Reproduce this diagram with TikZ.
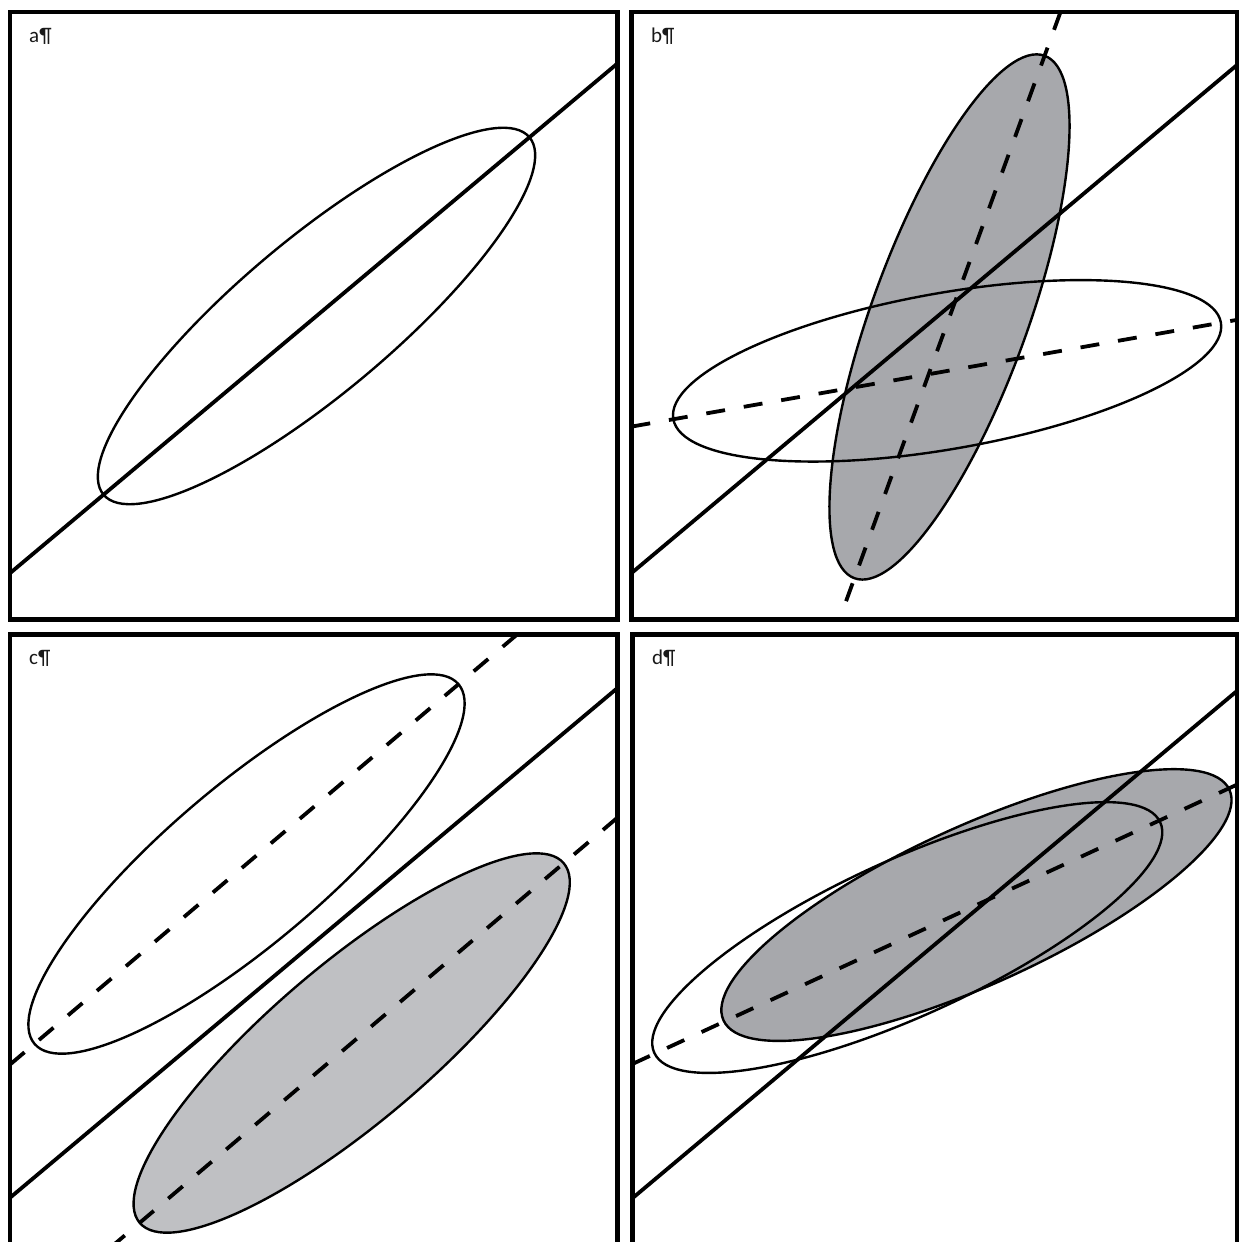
\documentclass[tikz,border=0pt]{standalone}
\usepackage{fontspec}
\setmainfont{Carlito}
\usetikzlibrary{calc}
\definecolor{shadeDark}{HTML}{A7A8AC}
\definecolor{shadeLight}{HTML}{BFC0C3}
\begin{document}
\begin{tikzpicture}[x=1pt,y=1pt,
  panelframe/.style={line width=4.5pt},
  mainline/.style={line width=3.8pt},
  axisline/.style={line width=3.8pt, dash pattern=on 19pt off 19pt},
  ring/.style={line width=2.4pt},
  lbl/.style={anchor=base west, inner sep=0pt, text=black!90, font=\fontsize{21}{24}\selectfont}]
\useasboundingbox (0,0) rectangle (1239,1242);

% ---------------- panel a ----------------
\coordinate (A) at (316.5,926);
\begin{scope}
  \clip (10,622.5) rectangle (617.5,1230);
  \draw[ring, rotate around={40:(A)}] (A) ellipse [x radius=278pt, y radius=77pt];
  \draw[mainline] ($(A)+(220:500)$) -- ($(A)+(40:500)$);
\end{scope}
\draw[panelframe] (10,622.5) rectangle (617.5,1230);
\node[lbl] (la) at (29,1199.5) {a¶};

% ---------------- panel b ----------------
\coordinate (Bg) at (949.5,925);
\coordinate (Bo) at (947,871);
\coordinate (Bs) at (956,941.2);
\begin{scope}
  \clip (631.5,622.5) rectangle (1237,1230);
  \filldraw[ring, fill=shadeDark, rotate around={70:(Bg)}] (Bg) ellipse [x radius=278pt, y radius=78pt];
  \draw[ring, rotate around={10:(Bo)}] (Bo) ellipse [x radius=278pt, y radius=78pt];
  \draw[axisline] ($(Bg)+(70:324.6)$) -- ($(Bg)+(250:500)$);
  \draw[axisline] ($(Bo)+(190:320.4)$) -- ($(Bo)+(10:700)$);
  \draw[mainline] ($(Bs)+(220:600)$) -- ($(Bs)+(40:600)$);
\end{scope}
\draw[panelframe] (631.5,622.5) rectangle (1237,1230);
\node[lbl] (lb) at (651,1199.5) {b¶};

% ---------------- panel c ----------------
\coordinate (Cu) at (246.5,378);
\coordinate (Cl) at (351.7,199);
\coordinate (Cs) at (313,298.5);
\begin{scope}
  \clip (10,-3) rectangle (617.5,607.5);
  \draw[ring, rotate around={40.3:(Cu)}] (Cu) ellipse [x radius=278pt, y radius=79pt];
  \filldraw[ring, fill=shadeLight, rotate around={40.3:(Cl)}] (Cl) ellipse [x radius=278pt, y radius=79pt];
  \draw[axisline] ($(Cu)+(220.3:310.1)$) -- ($(Cu)+(40.3:600)$);
  \draw[axisline] ($(Cl)+(40.3:348.5)$) -- ($(Cl)+(220.3:600)$);
  \draw[mainline] ($(Cs)+(220:600)$) -- ($(Cs)+(40:600)$);
\end{scope}
\draw[panelframe] (10,-3) rectangle (617.5,607.5);
\node[lbl] (lc) at (29,577) {c¶};

% ---------------- panel d ----------------
\coordinate (Dg) at (976.5,337);
\coordinate (Do) at (907.3,304.5);
\coordinate (Ds) at (936,298.5);
\begin{scope}
  \clip (632.5,-3) rectangle (1237,607.5);
  \filldraw[ring, fill=shadeDark, rotate around={24.5:(Dg)}] (Dg) ellipse [x radius=278pt, y radius=79pt];
  \draw[ring, rotate around={24.5:(Do)}] (Do) ellipse [x radius=278pt, y radius=78pt];
  \draw[axisline] ($(Dg)+(204.8:378.9)$) -- ($(Dg)+(24.8:700)$);
  \draw[mainline] ($(Ds)+(220:600)$) -- ($(Ds)+(40:600)$);
\end{scope}
\draw[panelframe] (632.5,-3) rectangle (1237,607.5);
\node[lbl] (ld) at (652,577) {d¶};
\end{tikzpicture}
\end{document}
